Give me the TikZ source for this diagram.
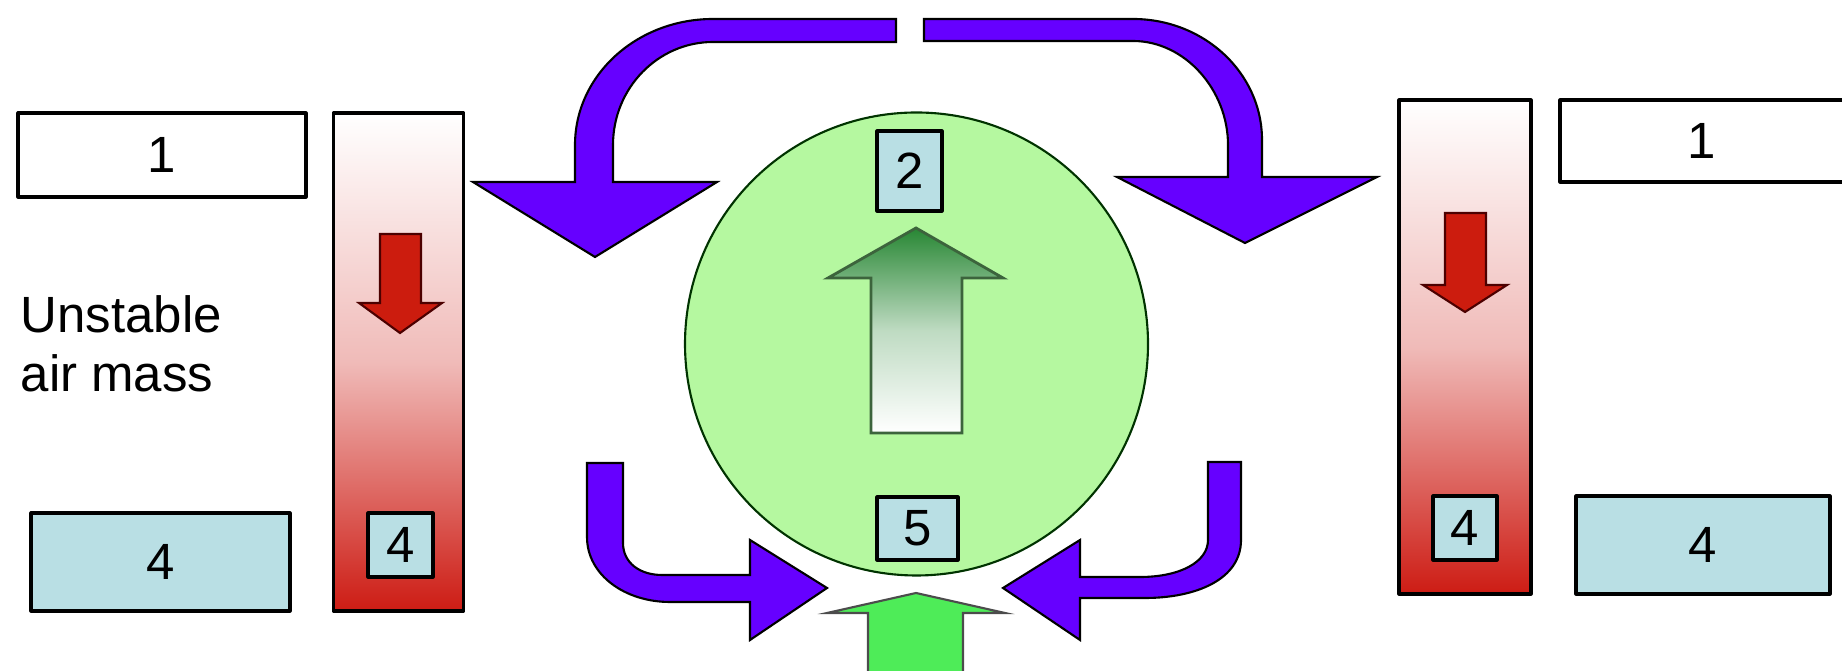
\documentclass[tikz,border=0pt]{standalone}
\usepackage{fontspec}
\setmainfont{Liberation Sans}
\usetikzlibrary{positioning}
\definecolor{flowpurple}{RGB}{102,0,255}
\definecolor{cellgreen}{RGB}{181,248,160}
\definecolor{boxblue}{RGB}{185,223,228}
\definecolor{barred}{RGB}{205,28,20}
\definecolor{sinkred}{RGB}{204,28,14}
\definecolor{liftgreen}{RGB}{40,135,52}
\definecolor{inflowgreen}{RGB}{78,236,88}
\tikzset{
  lbl/.style={draw,line width=0.9pt,inner sep=0pt,
              font=\fontsize{14.5}{16.8}\selectfont},
  whitebox/.style={lbl,fill=white},
  bluebox/.style={lbl,fill=boxblue},
  airbar/.style={draw,line width=0.9pt,inner sep=0pt,minimum width=1.3cm,
                 top color=white,bottom color=barred,middle color=barred!30},
  bigarrow/.style={fill=flowpurple,draw=black,line width=0.6pt,line join=miter},
  sinkarrow/.style={fill=sinkred,draw=black!70!red,line width=0.6pt,line join=miter},
  every picture/.style={line cap=round,line join=round}}

\begin{document}
\begin{tikzpicture}
  \useasboundingbox (0,0) rectangle (18.42,-6.71);
  \clip (0,0) rectangle (18.42,-6.71);
  % left air column
  \node[whitebox,minimum width=2.88cm,minimum height=0.84cm] (topL) at (1.62,-1.55) {1};
  \node[bluebox,minimum width=2.59cm,minimum height=0.98cm] (baseL) at (1.605,-5.62) {4};
  \node[anchor=west,align=left,inner sep=0pt,
        font=\fontsize{14.5}{16.8}\selectfont] (unstable) at (0.20,-3.44) {Unstable\\air mass};
  \node[airbar,minimum height=4.98cm] (barL) at (3.985,-3.62) {};
  \draw[sinkarrow] (3.80,-2.34) -- (4.21,-2.34) -- (4.21,-3.03) -- (4.42,-3.03)
    -- (4.00,-3.33) -- (3.59,-3.03) -- (3.80,-3.03) -- cycle;
  \node[bluebox,minimum width=0.65cm,minimum height=0.64cm] (barbaseL) at (4.005,-5.45) {4};
  % right air column
  \node[whitebox,minimum width=2.84cm,minimum height=0.82cm] (topR) at (17.02,-1.41) {1};
  \node[bluebox,minimum width=2.54cm,minimum height=0.98cm] (baseR) at (17.03,-5.45) {4};
  \node[airbar,minimum height=4.94cm,minimum width=1.32cm] (barR) at (14.65,-3.47) {};
  \draw[sinkarrow] (14.45,-2.13) -- (14.86,-2.13) -- (14.86,-2.85) -- (15.07,-2.85)
    -- (14.65,-3.12) -- (14.23,-2.85) -- (14.45,-2.85) -- cycle;
  \node[bluebox,minimum width=0.64cm,minimum height=0.64cm] (barbaseR) at (14.65,-5.28) {4};
  % the cell
  \node[circle,draw=black!80!green,line width=0.6pt,fill=cellgreen,
        minimum size=4.63cm,inner sep=0pt] (cell) at (9.165,-3.44) {};
  \draw[top color=liftgreen,bottom color=white,middle color=liftgreen!30!white,
        draw={rgb,255:red,60;green,100;blue,60},line width=0.8pt,line join=miter]
    (8.71,-4.33) -- (8.71,-2.78) -- (8.28,-2.78) -- (9.16,-2.28)
    -- (10.03,-2.78) -- (9.62,-2.78) -- (9.62,-4.33) -- cycle;
  \node[bluebox,minimum width=0.65cm,minimum height=0.80cm] (top2) at (9.095,-1.71) {2};
  \node[bluebox,minimum width=0.81cm,minimum height=0.63cm] (base5) at (9.175,-5.285) {5};
  \draw[fill=inflowgreen,draw=black!70,line width=0.6pt,line join=miter]
    (8.68,-6.80) -- (8.68,-6.13) -- (8.27,-6.13) -- (9.16,-5.93)
    -- (10.05,-6.13) -- (9.63,-6.13) -- (9.63,-6.80) -- cycle;
  % circulation arrows
  \draw[bigarrow] (8.96,-0.19) -- (7.13,-0.19)
    .. controls (6.37,-0.19) and (5.75,-0.75) .. (5.75,-1.45)
    -- (5.75,-1.82) -- (4.73,-1.82) -- (5.95,-2.57) -- (7.17,-1.82) -- (6.13,-1.82)
    -- (6.13,-1.45) .. controls (6.13,-0.88) and (6.58,-0.42) .. (7.13,-0.42)
    -- (8.96,-0.42) -- cycle;
  \draw[bigarrow] (9.24,-0.19) -- (11.33,-0.19)
    .. controls (12.04,-0.19) and (12.62,-0.73) .. (12.62,-1.40)
    -- (12.62,-1.77) -- (13.77,-1.77) -- (12.45,-2.43) -- (11.17,-1.77) -- (12.28,-1.77)
    -- (12.28,-1.45) .. controls (12.28,-0.90) and (11.85,-0.41) .. (11.33,-0.41)
    -- (9.24,-0.41) -- cycle;
  \draw[bigarrow] (5.87,-4.63) -- (5.87,-5.37)
    .. controls (5.87,-5.75) and (6.25,-6.02) .. (6.70,-6.02)
    -- (7.50,-6.02) -- (7.50,-6.40) -- (8.27,-5.88) -- (7.50,-5.40) -- (7.50,-5.75)
    -- (6.62,-5.75) .. controls (6.40,-5.75) and (6.23,-5.63) .. (6.23,-5.43)
    -- (6.23,-4.63) -- cycle;
  \draw[bigarrow] (12.41,-4.62) -- (12.41,-5.40)
    .. controls (12.41,-5.80) and (11.95,-5.98) .. (11.45,-5.98)
    -- (10.80,-5.98) -- (10.80,-6.40) -- (10.03,-5.88) -- (10.80,-5.40) -- (10.80,-5.77)
    -- (11.40,-5.77) .. controls (11.80,-5.77) and (12.08,-5.62) .. (12.08,-5.40)
    -- (12.08,-4.62) -- cycle;
\end{tikzpicture}
\end{document}
